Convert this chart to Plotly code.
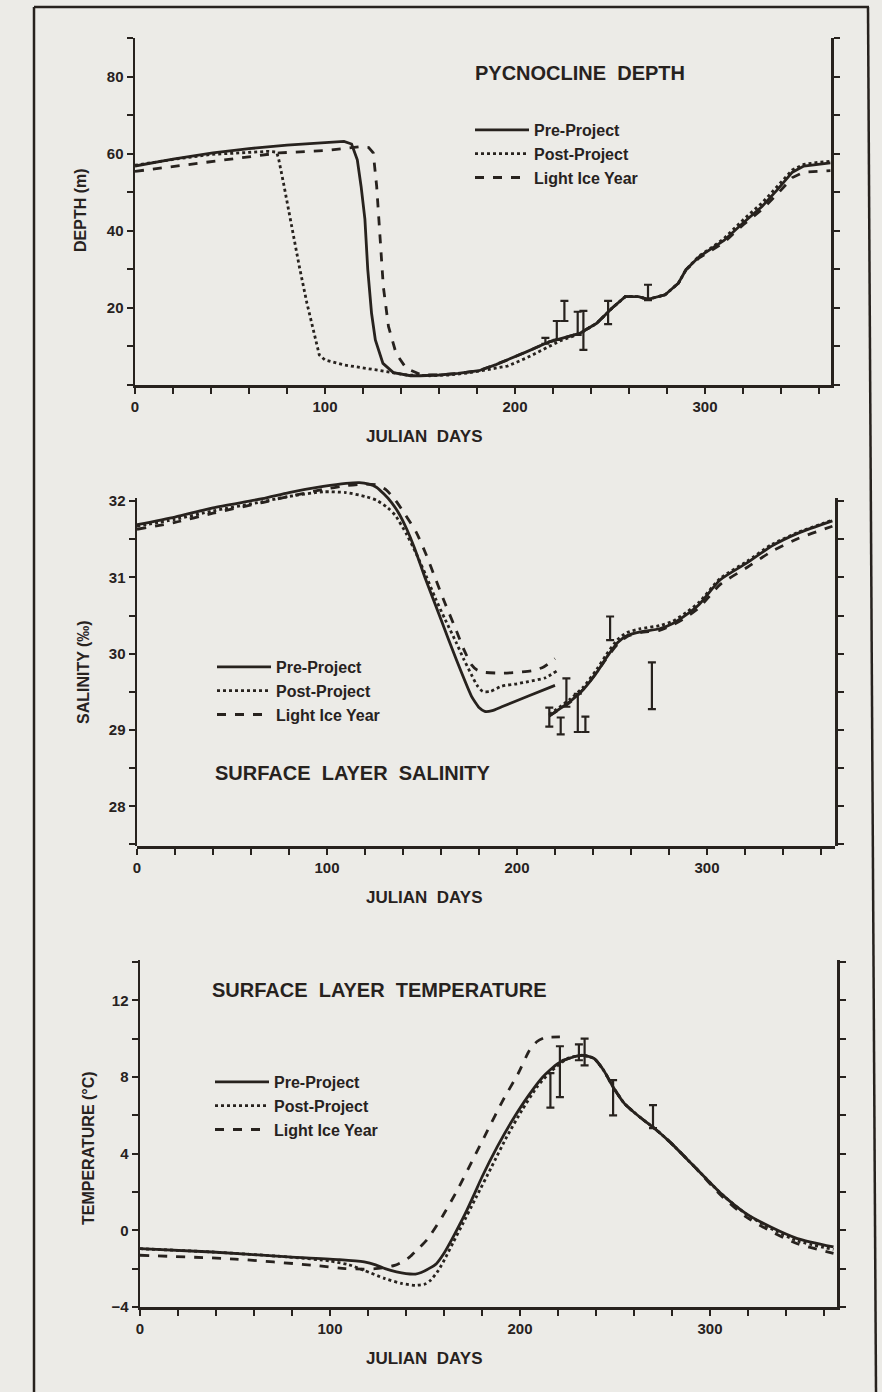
import plotly.graph_objects as go

INK = "#27221e"
PAPER = "#ecebe7"
FONT = "Liberation Sans, Arial, Helvetica, sans-serif"
W, H = 882, 1392

# ---------------- Panel 1: pycnocline depth (m) ----------------
depth_pre_day = [0, 20, 41, 60, 80, 100, 110, 114, 117, 119, 121, 122.5, 124.5, 126.5, 130.5, 136, 145,
                 150, 160, 170, 181, 190, 196, 206, 218, 234, 243, 251, 258, 265, 270, 279, 286, 290,
                 297, 303, 310, 320, 330, 338, 346, 352, 360, 366]
depth_pre_val = [56.8, 58.6, 60.2, 61.3, 62.2, 62.8, 63.2, 62.5, 58.4, 51.5, 43.0, 30.0, 18.6, 11.7, 5.6, 3.2, 2.4,
                 2.4, 2.6, 3.0, 3.7, 5.3, 6.5, 8.6, 11.2, 13.4, 16.0, 19.9, 22.9, 22.9, 22.2, 23.4, 26.4, 29.9,
                 33.3, 35.2, 37.5, 42.0, 46.3, 50.6, 55.2, 56.8, 57.3, 57.6]

depth_post_day = [0, 20, 40, 60, 70, 74.5, 75.5, 78.5, 82.5, 86.5, 90.5, 94.5, 97, 100, 110, 127, 143, 155,
                  165, 175, 185, 196, 206, 216, 224, 234, 243, 251, 258, 265, 270, 279, 286, 290, 297,
                  303, 310, 320, 330, 338, 346, 352, 360, 366]
depth_post_val = [57.0, 58.5, 59.8, 60.4, 60.6, 60.4, 58.9, 51.5, 41.0, 30.7, 21.2, 12.6, 7.8, 6.5, 5.2, 3.9, 2.6, 2.4,
                  2.6, 3.1, 4.0, 4.9, 7.0, 9.5, 11.5, 13.3, 16.0, 19.9, 22.9, 22.9, 22.2, 23.4, 26.4, 29.9, 33.5,
                  35.5, 38.0, 42.8, 47.2, 51.5, 55.8, 57.2, 57.8, 58.0]

depth_light_day = [0, 20, 41, 60, 76, 100, 118, 123, 125.4, 127.2, 128.8, 130.7, 133.4, 137.4, 142.8, 150.8,
                   160, 170, 181, 190, 196, 206, 218, 234, 243, 251, 258, 265, 270, 279, 286, 290, 297,
                   303, 310, 320, 330, 338, 346, 352, 360, 366]
depth_light_val = [55.4, 56.7, 58.0, 59.2, 60.2, 60.8, 61.8, 61.6, 60.2, 51.5, 38.5, 25.5, 15.2, 8.2, 4.3, 2.6,
                   2.6, 3.0, 3.7, 5.3, 6.5, 8.6, 11.2, 13.4, 16.0, 19.9, 22.9, 22.9, 22.2, 23.4, 26.4, 29.9, 33.0,
                   34.8, 37.0, 41.5, 45.5, 49.5, 53.8, 55.2, 55.5, 55.6]

depth_obs_day = [216, 222, 226, 233, 236, 249, 270]
depth_obs_low = [10.7, 11.7, 16.6, 13.0, 9.1, 15.8, 22.0]
depth_obs_high = [12.2, 16.6, 21.8, 19.0, 19.2, 21.8, 26.0]

# ---------------- Panel 2: surface layer salinity (per mil) ----------------
sal_pre_day = [0, 20, 40, 66, 80, 98, 110, 117, 122, 126, 130, 134, 138, 142, 146, 152, 160, 168, 176, 178,
               180, 183, 187, 192, 206, 220, None,
               217, 228, 235, 242, 247, 253, 258, 265, 275, 282, 289, 296, 307, 321, 334, 348, 366]
sal_pre_val = [31.68, 31.78, 31.90, 32.02, 32.10, 32.18, 32.22, 32.23, 32.21, 32.17, 32.08, 31.97, 31.82, 31.62,
               31.38, 30.96, 30.44, 29.92, 29.44, 29.36, 29.29, 29.24, 29.25, 29.30, 29.44, 29.58, None,
               29.18, 29.37, 29.53, 29.75, 29.94, 30.14, 30.23, 30.28, 30.32, 30.39, 30.50, 30.64, 30.96,
               31.18, 31.40, 31.57, 31.73]

sal_post_day = [0, 20, 40, 66, 80, 98, 110, 120, 126, 132, 136, 142, 147, 152, 157, 162, 168, 172, 176, 179,
                182, 186, 192, 200, 206, 215, 221, None,
                217, 228, 235, 242, 247, 253, 258, 265, 275, 282, 289, 296, 307, 321, 334, 348, 366]
sal_post_val = [31.66, 31.75, 31.86, 31.98, 32.05, 32.11, 32.10, 32.05, 32.00, 31.90, 31.80, 31.55, 31.30, 31.02,
                30.72, 30.45, 30.14, 29.92, 29.72, 29.58, 29.50, 29.50, 29.57, 29.60, 29.63, 29.68, 29.77, None,
                29.20, 29.40, 29.56, 29.79, 29.98, 30.18, 30.27, 30.32, 30.36, 30.42, 30.53, 30.67, 30.98,
                31.20, 31.42, 31.58, 31.74]

sal_light_day = [0, 20, 40, 66, 80, 98, 110, 120, 126, 131, 136, 141, 147, 152, 157, 162, 168, 172, 176, 179,
                 183, 192, 200, 208, 214, 220, None,
                 217, 228, 235, 242, 247, 253, 258, 265, 275, 282, 289, 296, 307, 321, 334, 348, 366]
sal_light_val = [31.62, 31.71, 31.83, 31.97, 32.05, 32.14, 32.19, 32.21, 32.20, 32.14, 32.00, 31.82, 31.58, 31.30,
                 30.98, 30.66, 30.30, 30.05, 29.85, 29.78, 29.75, 29.74, 29.75, 29.77, 29.82, 29.93, None,
                 29.18, 29.36, 29.53, 29.75, 29.93, 30.12, 30.22, 30.27, 30.30, 30.37, 30.47, 30.60, 30.90,
                 31.12, 31.33, 31.50, 31.66]

sal_obs_day = [217, 223, 226, 232, 236, 249, 271]
sal_obs_low = [29.04, 28.94, 29.30, 28.97, 28.97, 30.17, 29.27]
sal_obs_high = [29.29, 29.16, 29.67, 29.47, 29.17, 30.48, 29.88]

# ---------------- Panel 3: surface layer temperature (deg C) ----------------
temp_pre_day = [0, 38, 78, 105, 118, 124, 129, 135, 140, 145, 148, 152, 156, 160, 164, 168, 172, 176, 180, 188,
                196, 204, 212, 220, 228, 233, 239, 244, 249, 255, 263, 271, 279, 292, 306, 319, 332, 346, 365]
temp_pre_val = [-0.96, -1.13, -1.39, -1.53, -1.65, -1.80, -2.00, -2.17, -2.26, -2.28, -2.20, -2.00, -1.74, -1.20,
                -0.50, 0.25, 1.04, 1.90, 2.78, 4.35, 5.74, 6.96, 8.00, 8.70, 9.04, 9.13, 8.96, 8.35, 7.48, 6.61,
                5.91, 5.30, 4.60, 3.30, 1.90, 0.87, 0.17, -0.43, -0.87]

temp_post_day = [0, 38, 78, 100, 110, 118, 129, 138, 145, 150, 153, 157, 161, 165, 169, 177, 185, 193, 201, 209,
                 216, 225, 233, 239, 244, 249, 255, 263, 271, 279, 292, 306, 319, 332, 346, 365]
temp_post_val = [-0.96, -1.13, -1.39, -1.60, -1.80, -2.09, -2.52, -2.78, -2.87, -2.80, -2.60, -2.10, -1.39, -0.60,
                 0.17, 1.74, 3.30, 4.87, 6.26, 7.48, 8.26, 8.96, 9.13, 8.96, 8.35, 7.48, 6.61, 5.91, 5.30, 4.60,
                 3.30, 1.90, 0.85, 0.10, -0.55, -1.00]

temp_light_day = [0, 50, 92, 108, 118, 124, 130, 134, 138, 142, 146, 151, 159, 167, 175, 183, 191, 199, 205, 209,
                  213, 221, None,
                  222, 228, 233, 239, 244, 249, 255, 263, 271, 279, 292, 306, 319, 332, 346, 365]
temp_light_val = [-1.30, -1.50, -1.83, -2.00, -2.02, -2.00, -1.92, -1.83, -1.65, -1.39, -1.00, -0.50, 0.70, 2.09,
                  3.65, 5.22, 6.78, 8.17, 9.39, 9.85, 10.05, 10.09, None,
                  8.85, 9.04, 9.13, 8.96, 8.35, 7.48, 6.61, 5.91, 5.30, 4.60, 3.30, 1.80, 0.70, -0.05, -0.70, -1.20]

temp_obs_day = [216, 221, 231, 234, 249, 270]
temp_obs_low = [6.40, 6.95, 8.87, 8.60, 6.00, 5.33]
temp_obs_high = [8.20, 9.60, 9.70, 10.00, 7.83, 6.53]

series_names = ["Pre-Project", "Post-Project", "Light Ice Year"]
series_dash = ["solid", "dot", "dash"]

panels = [
    dict(lines=[(depth_pre_day, depth_pre_val), (depth_post_day, depth_post_val), (depth_light_day, depth_light_val)],
         obs=(depth_obs_day, depth_obs_low, depth_obs_high), shape="linear"),
    dict(lines=[(sal_pre_day, sal_pre_val), (sal_post_day, sal_post_val), (sal_light_day, sal_light_val)],
         obs=(sal_obs_day, sal_obs_low, sal_obs_high), shape="spline"),
    dict(lines=[(temp_pre_day, temp_pre_val), (temp_post_day, temp_post_val), (temp_light_day, temp_light_val)],
         obs=(temp_obs_day, temp_obs_low, temp_obs_high), shape="spline"),
]

fig = go.Figure()

# empty trace first so the salinity frame axis (x4/y4) is drawn underneath the data
fig.add_trace(go.Scatter(x=[None], y=[None], xaxis="x4", yaxis="y4", mode="lines",
                         showlegend=False, hoverinfo="skip"))

legend_ids = ["legend", "legend2", "legend3"]
for p, panel in enumerate(panels):
    xa = "x" if p == 0 else f"x{p+1}"
    ya = "y" if p == 0 else f"y{p+1}"
    for s, (dx, dy) in enumerate(panel["lines"]):
        fig.add_trace(go.Scatter(
            x=dx, y=dy, mode="lines", name=series_names[s], xaxis=xa, yaxis=ya,
            line=dict(color=INK, width=2.8, dash=series_dash[s], shape=panel["shape"], smoothing=0.6),
            connectgaps=False, legend=legend_ids[p], legendgroup=f"g{p}{s}",
        ))
    od, lo, hi = panel["obs"]
    fig.add_trace(go.Scatter(
        x=od, y=lo, mode="markers", xaxis=xa, yaxis=ya, showlegend=False,
        marker=dict(size=1, color="rgba(0,0,0,0)"),
        error_y=dict(type="data", symmetric=False, array=[h - l for h, l in zip(hi, lo)],
                     arrayminus=[0] * len(lo), color=INK, thickness=2.2, width=4),
    ))


def px_x(v):
    return v / W


def px_y(v):
    return 1 - v / H


tickfont = dict(family=FONT, size=15, color=INK, weight="bold")
PXDAY = 1.9


def xaxis_cfg(x0, x1, anchor, visible=True):
    return dict(
        domain=[px_x(x0), px_x(x1)], anchor=anchor, range=[0, (x1 - x0) / PXDAY], visible=visible,
        automargin=False, showgrid=False, zeroline=False, showline=True, linecolor=INK, linewidth=2.5,
        ticks="outside", ticklen=6, tickwidth=2, tickcolor=INK,
        tickvals=[0, 100, 200, 300], tickfont=tickfont,
        minor=dict(dtick=20, tick0=0, ticks="outside", ticklen=6, tickwidth=2, tickcolor=INK, showgrid=False),
    )


def yaxis_cfg(top, bottom, rng, tv, minor_dt, anchor, visible=True, line=True):
    return dict(
        domain=[px_y(bottom), px_y(top)], anchor=anchor, range=rng, visible=visible,
        automargin=False, showgrid=False, zeroline=False, showline=line, linecolor=INK, linewidth=2.5,
        mirror="ticks", ticks="outside", ticklen=6, tickwidth=2, tickcolor=INK,
        tickvals=tv, tickfont=tickfont,
        minor=dict(dtick=minor_dt, tick0=0, ticks="outside", ticklen=6, tickwidth=2, tickcolor=INK,
                   showgrid=False),
    )


layout_axes = dict(
    xaxis=xaxis_cfg(135, 831, "y"),
    yaxis=yaxis_cfg(38, 385, [0, 90], [20, 40, 60, 80], 10, "x"),
    # salinity: data axis reaches above the drawn frame (curves peak above 32)
    xaxis2=xaxis_cfg(137, 835, "y2"),
    yaxis2=yaxis_cfg(476, 846, [27.48, 27.48 + (846 - 476) / 76.5], [28], 0.5, "x2", visible=False),
    # salinity frame axis (left/right lines and ticks from 27.48 to 32.04)
    xaxis4=xaxis_cfg(137, 835, "y4", visible=False),
    yaxis4=yaxis_cfg(498, 846, [27.48, 32.04], [28, 29, 30, 31, 32], 0.5, "x4"),
    xaxis3=xaxis_cfg(140, 837, "y3"),
    yaxis3=yaxis_cfg(960, 1307, [-4, 14.1], [-4, 0, 4, 8, 12], 2, "x3"),
)

NB = "\u00a0"
annots = []


def ann(text, x, y, size, angle=0, xanchor="center"):
    annots.append(dict(text=text, x=px_x(x), y=px_y(y), xref="paper", yref="paper", showarrow=False,
                       textangle=angle, xanchor=xanchor, yanchor="middle",
                       font=dict(family=FONT, size=size, color=INK, weight="bold")))


ann("PYCNOCLINE" + NB + NB + "DEPTH", 473, 73, 20, xanchor="left")
ann("SURFACE" + NB + NB + "LAYER" + NB + NB + "SALINITY", 213, 773, 20, xanchor="left")
ann("SURFACE" + NB + NB + "LAYER" + NB + NB + "TEMPERATURE", 210, 990, 20, xanchor="left")
for yy in (437, 898, 1358):
    ann("JULIAN" + NB + NB + "DAYS", 424, yy, 17)
ann("DEPTH (m)", 80, 210, 16, angle=-90)
ann("SALINITY (‰)", 83, 672, 16, angle=-90)
ann("TEMPERATURE (°C)", 88, 1148, 16, angle=-90)

legfont = dict(family=FONT, size=16, color=INK, weight="bold")
legends = {
    "legend": (470, 113),
    "legend2": (212, 650),
    "legend3": (210, 1065),
}
leg_layout = {}
for k, (lx, ly) in legends.items():
    leg_layout[k] = dict(x=px_x(lx), y=px_y(ly), xanchor="left", yanchor="top", bgcolor="rgba(0,0,0,0)",
                         borderwidth=0, font=legfont, tracegroupgap=0, itemwidth=54)

shapes = [
    dict(type="line", xref="paper", yref="paper", x0=px_x(34), x1=px_x(34), y0=0, y1=px_y(7),
         line=dict(color=INK, width=2.5)),
    dict(type="line", xref="paper", yref="paper", x0=px_x(34), x1=px_x(869), y0=px_y(7), y1=px_y(7),
         line=dict(color=INK, width=2.5)),
    dict(type="line", xref="paper", yref="paper", x0=px_x(868), x1=px_x(876), y0=px_y(7), y1=0,
         line=dict(color=INK, width=2.5)),
]

fig.update_layout(
    width=W, height=H, margin=dict(l=0, r=0, t=0, b=0, autoexpand=False),
    paper_bgcolor=PAPER, plot_bgcolor="rgba(0,0,0,0)",
    font=dict(family=FONT, color=INK),
    annotations=annots, shapes=shapes, showlegend=True, hovermode=False,
    **layout_axes, **leg_layout,
)

fig.write_html("out.html", config={"displayModeBar": False, "staticPlot": True},
               post_script="document.body.style.margin='0px';")
